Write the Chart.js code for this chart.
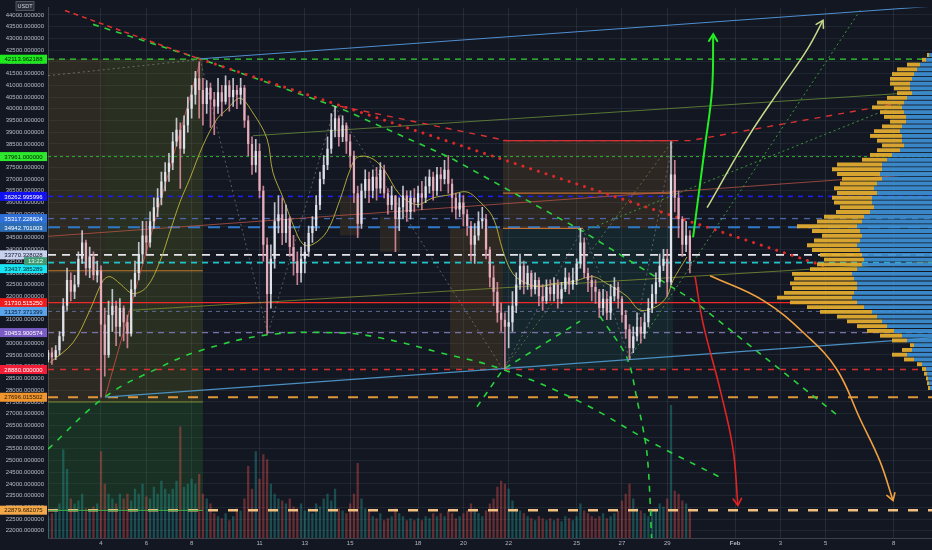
<!DOCTYPE html>
<html><head><meta charset="utf-8">
<script src="https://cdn.jsdelivr.net/npm/chart.js@4.4.0/dist/chart.umd.min.js"></script>
<style>
html,body{margin:0;padding:0;background:#131722;}
#wrap{position:relative;width:932px;height:550px;background:#131722;overflow:hidden;}
#main{position:absolute;left:0;top:0;}
#prof{position:absolute;left:48px;top:0;pointer-events:none;}
</style></head><body>
<div id="wrap"><canvas id="main" width="932" height="550"></canvas><canvas id="prof" width="884" height="538"></canvas></div>
<script>
// ---------------- DATA ----------------
const xMin = 1.66, xMax = 40.69;          // days of January (Feb 1 = 32)
const yMin = 21693, yMax = 44315;         // USDT
const xTickDays = [4,6,8,11,13,15,18,20,22,25,27,29,32,34,36,39];
const xTickLabels = ['4','6','8','11','13','15','18','20','22','25','27','29','Feb','3','5','8'];
const yTicks = [22000,22500,23000,23500,24000,24500,25000,25500,26000,26500,27000,27500,28000,28500,29000,29500,30000,30500,31000,31500,32000,32500,33000,33500,34000,34500,35000,35500,36000,36500,37000,37500,38000,38500,39000,39500,40000,40500,41000,41500,42000,42500,43000,43500,44000];

// 4h candles starting Jan 1 16:00
const candleStart = 1.667, candleStep = 1/6;
const firstOpen = 29300;
const candleClose = [
29600,29400,
29700,30300,31600,32700,32200,32500,
33600,34300,33200,33700,32900,33100,
30800,29500,31200,31600,30700,31500,
30900,30400,32300,33000,33800,34600,
34300,35200,35800,36200,36900,37300,
37700,38600,39100,38300,39300,40000,
40600,41300,40800,40200,40900,40400,
40100,40700,40300,41000,40500,40800,
40600,40900,39500,38500,37600,38200,
36500,34200,32100,33600,35200,35500,
34700,35300,34100,33500,33000,33600,
33900,34700,35000,35900,37000,37600,
38300,39100,39600,38800,39300,38600,
38000,36400,35100,36500,37000,36500,
37100,36600,37400,36400,35900,36300,
35300,35800,36300,35600,36200,36000,
36400,36200,36700,37100,36500,37200,
37000,37400,36800,36200,35700,36000,
35500,35000,34200,34600,35200,35300,
34000,32800,32200,31300,31000,30700,
30900,31600,32500,33300,32500,33000,
32300,32700,32000,31800,32400,32100,
32500,31900,32300,32800,32500,32700,
33400,34300,33000,32700,32400,32200,
31500,31900,31300,32000,32400,31900,
31200,30600,29800,30300,30700,30400,
30900,31500,32100,32600,33300,33600,
32600,37200,36200,35300,34200,34600,
33500];
const candleHigh = [
29700,29800,
29900,30500,31900,33200,33000,32900,
33900,34800,34400,34100,33900,33500,
33300,31500,31800,32300,31800,31900,
31600,31200,32700,33500,34300,35200,
35200,35600,36200,36600,37300,37700,
38100,39000,39600,39400,39700,40500,
41000,41600,42000,41300,41200,41100,
40700,41300,41000,41400,41200,41300,
41000,41300,41000,39700,38800,38700,
38500,36700,34500,34200,36000,36300,
36200,35900,35400,34600,33900,34100,
34300,35000,35400,36300,37300,38000,
38800,39800,40100,39700,39700,39400,
38900,38200,36700,36800,37400,37300,
37400,37500,37700,37600,36600,36700,
36300,36200,36700,36500,36500,36600,
36700,36900,37100,37400,37300,37500,
37500,37800,38000,37000,36400,36400,
36300,35700,35200,35100,35600,35800,
35500,34100,33300,32600,31700,31300,
31600,32200,33000,33800,33500,33300,
33100,33000,32800,32500,32700,32700,
32800,32700,32600,33200,33000,33200,
33600,34900,34500,33200,32900,32700,
32300,32300,32200,32500,32800,32600,
32000,31400,30800,30700,31300,31100,
31300,31900,32500,33000,33800,34000,
34000,38600,37800,36500,35400,35200,
34800];
const candleLow = [
29200,29100,
29300,29500,30100,31400,31800,31900,
32400,33400,32900,32800,32700,32600,
27700,28600,29400,30500,29900,30300,
30100,29800,30300,32000,32700,33400,
33800,34100,34900,35400,35900,36500,
36900,37400,38400,36600,38100,39000,
39600,40200,39600,39300,39800,39200,
38900,39800,39700,40200,39900,40100,
40000,40200,39200,38000,37200,37300,
36200,33500,30400,31500,33200,34700,
34200,34300,33700,32900,32500,32600,
33000,33700,34300,34800,35700,36800,
37400,38100,38800,38400,38600,38100,
37500,36000,34500,34900,36200,36000,
36200,36100,36400,36200,35500,35700,
33900,34800,35300,35200,35300,35600,
35800,35700,36000,36400,36100,36300,
36500,36800,36400,35600,35300,35400,
35000,34600,33500,33400,34400,34900,
33600,32400,31600,30900,30500,28900,
29800,30500,31300,32300,32100,32300,
32000,32100,31600,31400,31700,31800,
31800,31500,31700,32200,32100,32300,
32500,33200,32800,32200,31800,31700,
31100,31200,31000,31000,31800,31500,
30900,30200,29300,29600,30100,30000,
30200,30700,31300,31700,32400,33100,
32000,32500,35600,34500,33700,33900,
33000];
const candleVolume = [
22,25,
30,35,90,70,40,35,
38,45,30,28,32,35,
88,55,45,40,35,45,
40,45,38,50,45,55,
42,40,52,45,58,50,
45,50,58,113,52,55,
60,55,65,45,40,35,
25,22,20,25,18,22,
30,28,40,73,50,88,
60,85,80,55,45,40,
38,35,40,32,30,35,
28,30,25,35,32,40,
45,38,50,30,28,25,
35,45,76,40,30,28,
22,20,25,18,20,22,
30,25,22,18,20,18,
20,18,22,20,25,22,
25,22,28,25,20,22,
25,28,35,30,25,22,
28,35,40,52,58,55,
50,38,30,28,25,22,
20,18,22,20,18,20,
18,20,17,22,20,18,
22,35,28,25,22,20,
22,25,20,22,25,28,
38,45,55,40,30,28,
25,22,28,30,35,32,
40,135,48,45,38,35,
30];

// moving average
const maPoints = [[1.75,29180],[2.76,30020],[3.51,31410],[4.09,32670],[4.40,32840],[4.84,32540],[5.41,32120],[6.03,32410],[6.61,33510],[7.05,34770],[7.49,36030],[7.93,37040],[8.50,38430],[9.12,39560],[9.56,39980],[10.14,40450],[10.71,39820],[11.33,38720],[11.59,37290],[12.04,36200],[12.48,35060],[12.92,34220],[13.36,34220],[13.98,34770],[14.55,36120],[14.99,37380],[15.30,37920],[15.88,37920],[16.45,37460],[17.20,36330],[17.95,35910],[18.66,36200],[19.41,36330],[20.16,36450],[20.73,36030],[21.31,35360],[21.75,33930],[22.19,32960],[22.81,32540],[23.38,32410],[23.96,32540],[24.84,32630],[25.72,32840],[26.34,32540],[27.22,32000],[27.80,31410],[28.55,31580],[28.99,32000],[29.25,32670],[29.87,33680]];

// horizontal price levels
const levelValues = [42113.962188,37961.0,36262.995996,35317.228824,34942.701003,33770.328028,33437.385289,31730.51525,31357.371399,30453.900574,28880.0,27696.015502,22879.682075];

// drawn trend lines (day, price)
const blueTop = [[8.37,42130],[40.69,44370]];
const steelBlue = [[4.18,27700],[40.69,30230]];
const redDashTop = [[2.41,44190],[8.37,42120]];
const redDotted = [[8.37,42120],[36.19,33210]];
const redDashMid = [[14.55,40110],[21.92,38640],[30.0,38640],[38.97,40190]];
const greenDashMain = [[3.65,43600],[8.37,42130],[14.55,40030],[19.41,37920],[25.28,34770],[30.14,31830],[36.49,26950]];
const greenArc = [[1.66,25480],[4.18,27710],[6.60,28970],[8.37,29680],[11.37,30360],[14.55,30440],[16.32,30230],[18.97,29600],[21.75,28880],[25.15,27500],[28.24,25810],[31.46,24220]];
const greenUp = [[20.60,27290],[21.75,28880],[25.15,30940]];
const greenSteep = [[26.03,31150],[27.22,29390],[27.66,27620],[28.11,25270],[28.32,21500]];
const greenDot1 = [[27.22,29200],[37.60,44315]];
const greenDot2 = [[25.28,34770],[39.28,40190]];
const grayZigzag = [[8.37,42130],[11.37,30400],[14.33,40100],[21.75,28880],[25.28,34900],[27.36,29300],[29.25,38600]];
const redThin = [[4.18,27700],[8.37,42000]];
const brownThin = [[1.66,34560],[40.69,37250]];
const oliveGreenThin = [[10.71,38850],[40.69,40740]];
const oliveThin = [[5.41,31410],[40.69,33470]];
const grayDotTL = [[1.66,41410],[8.24,42090]];
const boxDiag = [[21.75,28880],[29.25,38640]];
const hLongTop = [[1.66,27495],[8.5,27495]];
const hLongStop = [[1.66,22870],[8.5,22870]];
const hOrangeLeft = [[1.66,33090],[8.5,33090]];
const hBoxTop = [[21.75,38640],[29.25,38640]];
const hBoxMid = [[21.75,36400],[29.25,36400]];
const hBoxEntry = [[21.75,34900],[25.28,34900]];

// projection arrows
const arrowGreen = [[30.14,34520],[30.67,38430],[30.98,40830],[31.03,43180]];
const arrowPale = [[30.76,35780],[32.52,38720],[33.98,40830],[35.17,42510],[35.88,43770]];
const arrowRed = [[30.23,32840],[30.58,30860],[31.33,28040],[31.90,25520],[32.12,23080]];
const arrowOrange = [[30.89,32880],[33.23,31830],[35.17,30310],[36.49,28880],[37.51,26780],[38.39,24970],[38.97,23290]];

// shaded zones [x0, x1, price0, price1]
const zoneBoxes = [[1.66,4.18,27495,42130],[4.18,8.5,27495,42130],[1.66,8.5,22870,27495],[19.41,21.75,28884,34896],[21.75,29.25,34896,38638],[21.75,29.25,28884,34896],[14.55,15.43,34600,36300],[16.32,17.20,33900,35400]];

// volume profile (price bins, buy / sell volumes)
const profPrice = [42000,41800,41600,41400,41200,41000,40800,40600,40400,40200,40000,39800,39600,39400,39200,39000,38800,38600,38400,38200,38000,37800,37600,37400,37200,37000,36800,36600,36400,36200,36000,35800,35600,35400,35200,35000,34800,34600,34400,34200,34000,33800,33600,33400,33200,33000,32800,32600,32400,32200,32000,31800,31600,31400,31200,31000,30800,30600,30400,30200,30000,29800,29600,29400,29200,29000,28800,28600,28400,28200,28000];
const profBuy = [3,6,12,15,18,20,22,22,20,25,28,30,28,26,26,30,32,30,30,28,32,40,45,50,50,52,50,55,58,55,60,60,58,62,68,70,75,72,70,72,75,72,70,68,70,75,80,78,75,75,78,80,75,68,60,55,50,45,38,30,25,18,20,25,18,10,6,5,4,3,2];
const profSell = [2,4,13,20,22,22,20,16,15,20,27,30,24,22,16,20,26,32,25,22,23,22,25,45,50,43,40,37,40,40,40,38,34,34,40,45,60,48,40,46,50,48,42,40,45,47,60,60,67,65,70,75,67,57,52,40,35,30,27,22,15,4,10,15,10,5,4,3,2,2,2];

// ---------------- STYLES ----------------
const FONT = '"Liberation Sans", Arial, sans-serif';
const levelStyles = [
 {c:'#35d235',w:1.3,d:[6,5],bg:'#1ee81e',fg:'#062006',shift:0},
 {c:'#2fae2f',w:1,d:[3,3],bg:'#2ee82e',fg:'#062006',shift:0},
 {c:'#1c1cf0',w:1.6,d:[5,5],bg:'#1010f0',fg:'#ffffff',shift:0},
 {c:'#4a68a8',w:1.3,d:[6,6],bg:'#2f6fd8',fg:'#ffffff',shift:0},
 {c:'#2f78c8',w:2,d:[12,8],bg:'#2d6db3',fg:'#ffffff',shift:0},
 {c:'#e4e4ea',w:1.8,d:[8,6],bg:'#c8d2ee',fg:'#141826',shift:0},
 {c:'#1ec4c8',w:1.6,d:[6,5],bg:'#18e4f4',fg:'#072628',shift:6},
 {c:'#f02828',w:1.3,d:[],bg:'#f01c1c',fg:'#ffffff',shift:0},
 {c:'#5a6a90',w:1,d:[4,4],bg:'#5aa4ec',fg:'#0a1a2a',shift:0},
 {c:'#7a70a8',w:1.3,d:[6,5],bg:'#7a5cc4',fg:'#ffffff',shift:0},
 {c:'#d83030',w:1.3,d:[6,6],bg:'#f21c36',fg:'#ffffff',shift:0},
 {c:'#e0963a',w:2,d:[10,10],bg:'#f0962c',fg:'#2a1a0a',shift:0},
 {c:'#f2c080',w:2.5,d:[10,10],bg:'#f2a848',fg:'#2a1a0a',shift:0}
];
const zoneColors = ['rgba(115,95,40,0.28)','rgba(100,115,35,0.28)','rgba(40,110,45,0.30)','rgba(125,90,40,0.26)','rgba(125,92,40,0.24)','rgba(40,115,100,0.17)','rgba(125,90,40,0.22)','rgba(125,90,40,0.22)'];

// ---------------- BUILD ----------------
const toXY = pts => pts.map(p => ({x:p[0], y:p[1]}));
const candleX = candleClose.map((c,i) => candleStart + i*candleStep);
const opens = candleClose.map((c,i) => i === 0 ? firstOpen : candleClose[i-1]);
const isUp = candleClose.map((c,i) => c >= opens[i]);
const upCol = 'rgba(228,228,236,0.95)', dnCol = 'rgba(232,176,190,0.95)';
const upWick = 'rgba(210,210,220,0.9)', dnWick = 'rgba(220,140,158,0.9)';

function line(pts, color, width, dash, opts) {
  return Object.assign({type:'line', data: toXY(pts), borderColor: color, borderWidth: width,
    borderDash: dash || [], pointRadius: 0, fill: false, tension: 0, order: 5,
    borderCapStyle: 'butt'}, opts || {});
}

const datasets = [];
// candles
datasets.push({type:'bar', data: candleX.map((x,i)=>({x, y:[opens[i], candleClose[i]]})),
  backgroundColor: isUp.map(u => u ? upCol : dnCol), grouped:false, barPercentage:0.6, categoryPercentage:1, order:1});
datasets.push({type:'bar', data: candleX.map((x,i)=>({x, y:[candleLow[i], candleHigh[i]]})),
  backgroundColor: isUp.map(u => u ? upWick : dnWick), grouped:false, barThickness:1, order:2});
// volume
datasets.push({type:'bar', yAxisID:'yv', data: candleX.map((x,i)=>({x, y:candleVolume[i]})),
  backgroundColor: isUp.map(u => u ? 'rgba(38,166,154,0.38)' : 'rgba(239,83,80,0.38)'), grouped:false, barPercentage:0.6, categoryPercentage:1, order:20});
// MA
datasets.push(line(maPoints, 'rgba(190,180,60,0.9)', 1, [], {tension:0.35, order:3}));
// levels
levelValues.forEach((v,i)=>{
  const s = levelStyles[i];
  datasets.push(line([[xMin,v],[xMax,v]], s.c, s.w, s.d, {order:8}));
});
// trend lines
datasets.push(line(blueTop, '#4f8fd0', 1));
datasets.push(line(steelBlue, '#4a90c0', 1.2));
datasets.push(line(redDashTop, '#e03030', 1.5, [5,4]));
datasets.push(line(redDotted, '#e02828', 3, [0.1,8], {borderCapStyle:'round'}));
datasets.push(line(redDashMid, '#d83030', 1.4, [6,6]));
datasets.push(line(greenDashMain, '#2bd03c', 1.6, [6,6]));
datasets.push(line(greenArc, '#28d23c', 1.6, [6,7], {tension:0.4}));
datasets.push(line(greenUp, '#28d23c', 1.6, [6,6]));
datasets.push(line(greenSteep, '#28d23c', 1.6, [6,6], {tension:0.3}));
datasets.push(line(greenDot1, '#3a9a3a', 1, [2,3]));
datasets.push(line(greenDot2, '#3a9a3a', 1, [2,3]));
datasets.push(line(grayZigzag, 'rgba(170,170,180,0.45)', 1, [2,3]));
datasets.push(line(redThin, 'rgba(210,80,70,0.8)', 1));
datasets.push(line(brownThin, 'rgba(190,85,70,0.75)', 1));
datasets.push(line(oliveGreenThin, 'rgba(110,150,60,0.75)', 1));
datasets.push(line(oliveThin, 'rgba(130,150,50,0.75)', 1));
datasets.push(line(grayDotTL, 'rgba(150,150,150,0.6)', 1, [2,3]));
datasets.push(line(boxDiag, 'rgba(150,160,90,0.55)', 1, [2,3]));
datasets.push(line(hLongTop, '#7d8f35', 1));
datasets.push(line(hLongStop, '#3fae4a', 1));
datasets.push(line(hOrangeLeft, '#c27a2c', 1));
datasets.push(line(hBoxTop, '#c8343a', 1.2));
datasets.push(line(hBoxMid, 'rgba(210,120,50,0.85)', 1.3));
datasets.push(line(hBoxEntry, 'rgba(215,120,50,0.9)', 1.3));
// arrows
datasets.push(line(arrowGreen, '#22ee22', 2, [], {tension:0.4, arrowHead:true, order:4}));
datasets.push(line(arrowPale, '#c8d88a', 1.5, [], {tension:0.4, arrowHead:true, order:4}));
datasets.push(line(arrowRed, '#e02424', 1.6, [], {tension:0.4, arrowHead:true, order:4}));
datasets.push(line(arrowOrange, '#f0a040', 1.6, [], {tension:0.4, arrowHead:true, order:4}));

// ---------------- PLUGINS ----------------
const bgPlugin = {id:'bg', beforeDraw(chart){ const c=chart.ctx; c.save(); c.fillStyle='#131722'; c.fillRect(0,0,chart.width,chart.height); c.restore(); }};
const zonePlugin = {
  id:'zones',
  beforeDatasetsDraw(chart){
    const {ctx, chartArea:a, scales:{x, y}} = chart;
    ctx.save(); ctx.beginPath(); ctx.rect(a.left, a.top, a.width, a.height); ctx.clip();
    zoneBoxes.forEach((z,i)=>{
      const x0=x.getPixelForValue(z[0]), x1=x.getPixelForValue(z[1]);
      const y0=y.getPixelForValue(z[2]), y1=y.getPixelForValue(z[3]);
      ctx.fillStyle = zoneColors[i];
      ctx.fillRect(Math.min(x0,x1), Math.min(y0,y1), Math.abs(x1-x0), Math.abs(y1-y0));
    });
    ctx.restore();
  }
};
const arrowPlugin = {
  id:'arrows',
  afterDatasetsDraw(chart){
    const ctx = chart.ctx;
    chart.data.datasets.forEach((ds,i)=>{
      if(!ds.arrowHead) return;
      const pts = chart.getDatasetMeta(i).data;
      const p1 = pts[pts.length-1], p0 = pts[pts.length-2];
      let fx = p0.x, fy = p0.y;
      if (p1.cp1x !== undefined && (Math.abs(p1.cp1x-p1.x)+Math.abs(p1.cp1y-p1.y))>1) { fx=p1.cp1x; fy=p1.cp1y; }
      const ang = Math.atan2(p1.y-fy, p1.x-fx);
      const len = 8, sp = 0.55;
      ctx.save(); ctx.strokeStyle = ds.borderColor; ctx.lineWidth = ds.borderWidth; ctx.lineCap='round';
      ctx.beginPath();
      ctx.moveTo(p1.x - len*Math.cos(ang-sp), p1.y - len*Math.sin(ang-sp));
      ctx.lineTo(p1.x, p1.y);
      ctx.lineTo(p1.x - len*Math.cos(ang+sp), p1.y - len*Math.sin(ang+sp));
      ctx.stroke(); ctx.restore();
    });
  }
};
const labelPlugin = {
  id:'lvlLabels',
  afterDraw(chart){
    const ctx = chart.ctx, y = chart.scales.y;
    ctx.save();
    ctx.font = '6px ' + FONT; ctx.textAlign='center'; ctx.textBaseline='middle';
    const cy = y.getPixelForValue(33500);
    levelValues.forEach((v,i)=>{
      const s = levelStyles[i];
      const py = y.getPixelForValue(v) + s.shift;
      ctx.fillStyle = s.bg; ctx.fillRect(0, py-4.5, 47, 9);
      ctx.fillStyle = s.fg; ctx.fillText(v.toFixed(6), 23.5, py+0.5);
    });
    // countdown box on the last price
    ctx.fillStyle = '#3f9a74'; ctx.fillRect(24, cy-4, 23, 8);
    ctx.fillStyle = '#e8f5ee'; ctx.fillText('13:22', 35.5, cy+0.5);
    // currency tag
    ctx.fillStyle = '#2a2e39'; ctx.fillRect(16, 1.5, 18, 9);
    ctx.strokeStyle = '#5d606b'; ctx.lineWidth = 0.8; ctx.strokeRect(16, 1.5, 18, 9);
    ctx.fillStyle = '#d1d4dc'; ctx.font = '5.5px ' + FONT; ctx.fillText('USDT', 25, 6.3);
    ctx.restore();
  }
};

Chart.defaults.font.family = FONT;
new Chart(document.getElementById('main'), {
  type:'bar',
  data:{datasets},
  options:{
    responsive:false, animation:false, devicePixelRatio: window.devicePixelRatio || 1,
    layout:{padding:0, autoPadding:false},
    plugins:{legend:{display:false}, tooltip:{enabled:false}},
    scales:{
      x:{type:'linear', min:xMin, max:xMax, offset:false,
        afterBuildTicks: s => { s.ticks = xTickDays.map(v => ({value:v})); },
        afterFit: s => { s.height = 12; },
        ticks:{autoSkip:false, maxRotation:0, padding:2, color:'#b4b8c2',
          font: ctx => ({size:6, weight: (ctx.tick && ctx.tick.label === 'Feb') ? 'bold' : 'normal'}),
          callback:(v,i) => xTickLabels[i]},
        grid:{color:'rgba(125,135,160,0.17)', drawTicks:false, offset:false},
        border:{color:'#3c404c'}},
      y:{type:'linear', position:'left', min:yMin, max:yMax,
        afterBuildTicks: s => { s.ticks = yTicks.map(v => ({value:v})); },
        afterFit: s => { s.width = 48; },
        ticks:{autoSkip:false, padding:4, color:'#b8bcc6', font:{size:6}, callback: v => Number(v).toFixed(6)},
        grid:{color:'rgba(125,135,160,0.13)', drawTicks:false},
        border:{color:'#3c404c'}},
      yv:{type:'linear', display:false, min:0, max:538}
    }
  },
  plugins:[bgPlugin, zonePlugin, arrowPlugin, labelPlugin]
});

// volume profile (right side)
new Chart(document.getElementById('prof'), {
  type:'bar',
  data:{datasets:[
    {data: profPrice.map((p,i)=>({x:profBuy[i], y:p})), backgroundColor:'rgba(62,145,215,0.92)', stack:'p', barPercentage:0.82, categoryPercentage:1},
    {data: profPrice.map((p,i)=>({x:profSell[i], y:p})), backgroundColor:'rgba(226,172,48,0.95)', stack:'p', barPercentage:0.82, categoryPercentage:1}
  ]},
  options:{
    indexAxis:'y', responsive:false, animation:false, devicePixelRatio: window.devicePixelRatio || 1,
    layout:{padding:0, autoPadding:false},
    plugins:{legend:{display:false}, tooltip:{enabled:false}},
    scales:{
      x:{type:'linear', min:0, max:884, reverse:true, display:false, stacked:true},
      y:{type:'linear', min:yMin, max:yMax, display:false, stacked:true, offset:false}
    }
  }
});
</script>
</body></html>
